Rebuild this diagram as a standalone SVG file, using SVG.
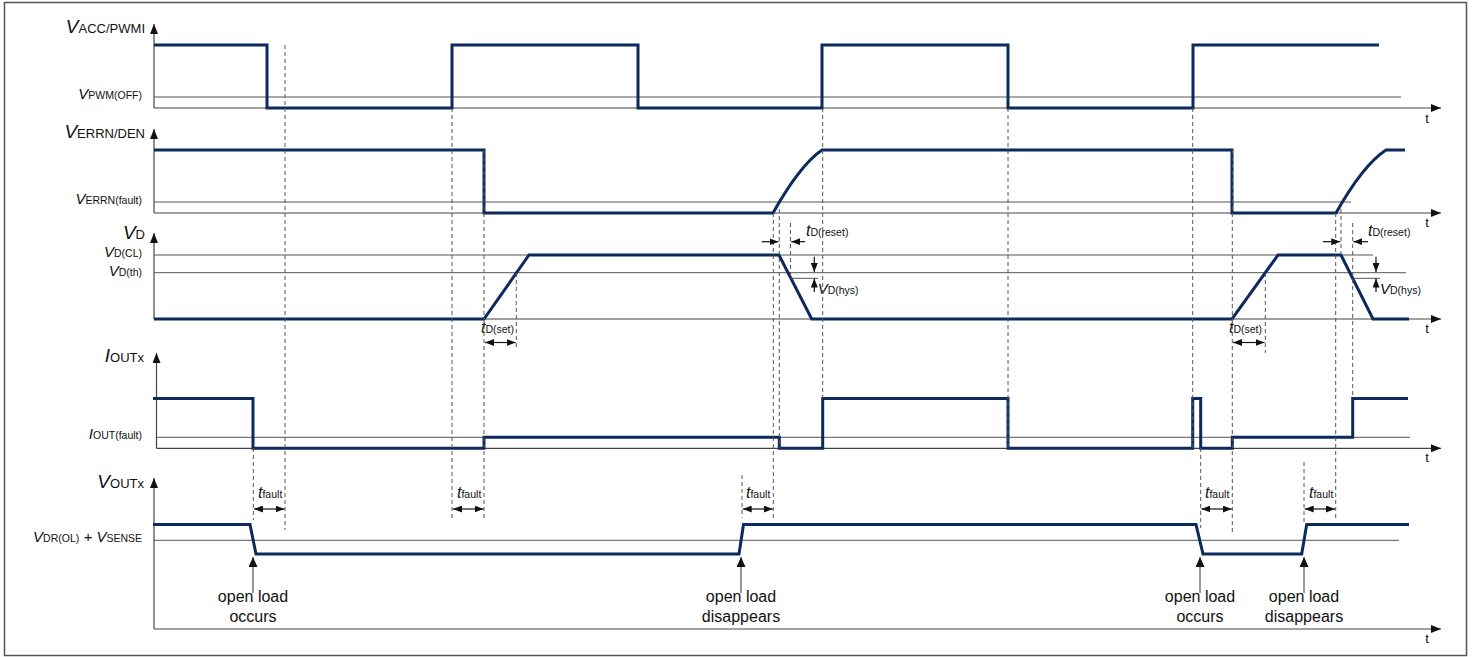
<svg xmlns="http://www.w3.org/2000/svg" width="1474" height="657" viewBox="0 0 1474 657">
<defs>
<marker id="ah" markerUnits="userSpaceOnUse" markerWidth="10" markerHeight="8" refX="10" refY="4" orient="auto"><path d="M0,0 L10,4 L0,8 z" fill="#111"/></marker>
<marker id="sh" markerUnits="userSpaceOnUse" markerWidth="9" markerHeight="7" refX="9" refY="3.5" orient="auto-start-reverse"><path d="M0,0 L9,3.5 L0,7 z" fill="#111"/></marker>
<marker id="bh" markerUnits="userSpaceOnUse" markerWidth="10" markerHeight="9" refX="10" refY="4.5" orient="auto"><path d="M0,0 L10,4.5 L0,9 z" fill="#111"/></marker>
<style>
.sig{fill:none;stroke:#0c2a5c;stroke-width:3;stroke-linejoin:miter}
.ax{stroke:#444;stroke-width:1.2;fill:none}
.axa{stroke:#444;stroke-width:1.2;fill:none;marker-end:url(#ah)}
.ref{stroke:#555;stroke-width:1;fill:none}
.dash{stroke:#555;stroke-width:1;stroke-dasharray:4 3;fill:none}
.dbl{stroke:#111;stroke-width:1.2;marker-start:url(#sh);marker-end:url(#sh)}
.one{stroke:#111;stroke-width:1.2;marker-end:url(#sh)}
.ptr{stroke:#333;stroke-width:1;marker-end:url(#bh)}
text{font-family:"Liberation Sans",Arial,sans-serif;fill:#111}
.bv{font-size:19px;font-style:italic}
.bs{font-size:13px}
.sv{font-size:15px;font-style:italic}
.ss{font-size:10.5px}
.tt{font-size:16px;font-style:italic}
.ann{font-size:16px}
.tl{font-size:13px}
</style>
</defs>
<rect x="4.5" y="2.5" width="1462" height="653" fill="#fff" stroke="#555" stroke-width="1.5"/>

<g id="panel-pwm">
<line class="axa" x1="154" y1="108" x2="154" y2="24"/>
<line class="axa" x1="154" y1="108" x2="1441" y2="108"/>
<line class="ref" x1="154" y1="97" x2="1401" y2="97"/>
<text x="145" y="33" text-anchor="end"><tspan class="bv">V</tspan><tspan class="bs">ACC/PWMI</tspan></text>
<text x="142" y="99" text-anchor="end"><tspan class="sv">V</tspan><tspan class="ss">PWM(OFF)</tspan></text>
<text class="tl" x="1427" y="123" text-anchor="middle">t</text>
<path class="sig" d="M154,45 H267 V108 H452 V45 H638 V108 H822 V45 H1008 V108 H1193 V45 H1379"/>
</g>

<g id="panel-errn">
<line class="axa" x1="154" y1="213" x2="154" y2="129"/>
<line class="axa" x1="154" y1="213" x2="1441" y2="213"/>
<line class="ref" x1="154" y1="202" x2="1351" y2="202"/>
<text x="145" y="138" text-anchor="end"><tspan class="bv">V</tspan><tspan class="bs">ERRN/DEN</tspan></text>
<text x="142" y="204" text-anchor="end"><tspan class="sv">V</tspan><tspan class="ss">ERRN(fault)</tspan></text>
<text class="tl" x="1427" y="227" text-anchor="middle">t</text>
<path class="sig" d="M154,150 H484 V213 H773 Q800,165 822,150 H1232 V213 H1336 Q1363,165 1386,150 H1405"/>
</g>

<g id="panel-vd">
<line class="axa" x1="154" y1="319" x2="154" y2="233"/>
<line class="axa" x1="154" y1="319" x2="1441" y2="319"/>
<line class="ref" x1="154" y1="255" x2="1373" y2="255"/>
<line class="ref" x1="154" y1="272.7" x2="1406" y2="272.7"/>
<text x="145" y="239" text-anchor="end"><tspan class="bv">V</tspan><tspan class="bs">D</tspan></text>
<text x="142" y="257" text-anchor="end"><tspan class="sv">V</tspan><tspan class="ss">D(CL)</tspan></text>
<text x="142" y="276" text-anchor="end"><tspan class="sv">V</tspan><tspan class="ss">D(th)</tspan></text>
<text class="tl" x="1427" y="333" text-anchor="middle">t</text>
<path class="sig" d="M154,319 H484 L529,255 H779 L811.7,319 H1232 L1278,255 H1341 L1373,319 H1409"/>
<line class="ref" x1="789" y1="278.3" x2="818" y2="278.3"/>
<line class="ref" x1="1353" y1="278.3" x2="1380" y2="278.3"/>
<line class="one" x1="814.3" y1="256.7" x2="814.3" y2="272"/>
<line class="one" x1="814.3" y1="292" x2="814.3" y2="278.6"/>
<line class="one" x1="1376" y1="256.7" x2="1376" y2="272"/>
<line class="one" x1="1376" y1="292" x2="1376" y2="278.6"/>
<text x="817.7" y="293.5"><tspan class="sv">V</tspan><tspan class="ss">D(hys)</tspan></text>
<text x="1380" y="293.5"><tspan class="sv">V</tspan><tspan class="ss">D(hys)</tspan></text>
<text x="481" y="333"><tspan class="tt">t</tspan><tspan class="ss">D(set)</tspan></text>
<text x="1229" y="333"><tspan class="tt">t</tspan><tspan class="ss">D(set)</tspan></text>
<text x="806" y="236"><tspan class="tt">t</tspan><tspan class="ss">D(reset)</tspan></text>
<text x="1368" y="236"><tspan class="tt">t</tspan><tspan class="ss">D(reset)</tspan></text>
</g>

<g id="panel-iout">
<line class="axa" x1="156.5" y1="448.3" x2="156.5" y2="353"/>
<line class="axa" x1="156.5" y1="448.3" x2="1441" y2="448.3"/>
<line class="ref" x1="156.5" y1="437.3" x2="1410" y2="437.3"/>
<text x="144" y="362" text-anchor="end"><tspan class="bv">I</tspan><tspan class="bs">OUTx</tspan></text>
<text x="142" y="439" text-anchor="end"><tspan class="sv">I</tspan><tspan class="ss">OUT(fault)</tspan></text>
<text class="tl" x="1427" y="462" text-anchor="middle">t</text>
<path class="sig" d="M153,398.5 H253 V448.3 H484 V437.3 H779.3 V448.3 H822.7 V398.5 H1008 V448.3 H1192.7 V398.5 H1200.7 V448.3 H1232.3 V437.3 H1352.7 V398.5 H1408"/>
</g>

<g id="panel-vout">
<line class="axa" x1="154" y1="629" x2="154" y2="478"/>
<line class="axa" x1="154" y1="629" x2="1441" y2="629"/>
<line class="ref" x1="154" y1="540.3" x2="1399" y2="540.3"/>
<text x="144" y="488" text-anchor="end"><tspan class="bv">V</tspan><tspan class="bs">OUTx</tspan></text>
<text x="142" y="542" text-anchor="end"><tspan class="sv">V</tspan><tspan class="ss">DR(OL)</tspan><tspan class="sv" font-style="normal"> + </tspan><tspan class="sv">V</tspan><tspan class="ss">SENSE</tspan></text>
<text class="tl" x="1427" y="643" text-anchor="middle">t</text>
<path class="sig" d="M153,524.5 H250 L256,554 H739 L743.5,524.5 H1196 L1203,554 H1301.7 L1306.7,524.5 H1409"/>
<text x="258" y="498"><tspan class="tt">t</tspan><tspan class="ss">fault</tspan></text>
<text x="457" y="498"><tspan class="tt">t</tspan><tspan class="ss">fault</tspan></text>
<text x="746" y="498"><tspan class="tt">t</tspan><tspan class="ss">fault</tspan></text>
<text x="1205" y="498"><tspan class="tt">t</tspan><tspan class="ss">fault</tspan></text>
<text x="1309" y="498"><tspan class="tt">t</tspan><tspan class="ss">fault</tspan></text>
</g>

<g id="annot-1">
<line class="ptr" x1="253" y1="593" x2="253" y2="557"/>
<text class="ann" x="253" y="602" text-anchor="middle">open load</text>
<text class="ann" x="253" y="622" text-anchor="middle">occurs</text>
</g>
<g id="annot-2">
<line class="ptr" x1="741" y1="593" x2="741" y2="557"/>
<text class="ann" x="741" y="602" text-anchor="middle">open load</text>
<text class="ann" x="741" y="622" text-anchor="middle">disappears</text>
</g>
<g id="annot-3">
<line class="ptr" x1="1200" y1="593" x2="1200" y2="557"/>
<text class="ann" x="1200" y="602" text-anchor="middle">open load</text>
<text class="ann" x="1200" y="622" text-anchor="middle">occurs</text>
</g>
<g id="annot-4">
<line class="ptr" x1="1304" y1="593" x2="1304" y2="557"/>
<text class="ann" x="1304" y="602" text-anchor="middle">open load</text>
<text class="ann" x="1304" y="622" text-anchor="middle">disappears</text>
</g>

<g id="connectors">
<line class="dash" x1="285" y1="45" x2="285" y2="530"/>
<line class="dash" x1="452" y1="108" x2="452" y2="518"/>
<line class="dash" x1="484" y1="150" x2="484" y2="518"/>
<line class="dash" x1="516.3" y1="273" x2="516.3" y2="350"/>
<line class="dash" x1="773.3" y1="213" x2="773.3" y2="518"/>
<line class="dash" x1="779.3" y1="209" x2="779.3" y2="448"/>
<line class="dash" x1="790.5" y1="223" x2="790.5" y2="278"/>
<line class="dash" x1="822.7" y1="108" x2="822.7" y2="398"/>
<line class="dash" x1="1008" y1="108" x2="1008" y2="448"/>
<line class="dash" x1="1192.7" y1="108" x2="1192.7" y2="448"/>
<line class="dash" x1="1200.7" y1="448" x2="1200.7" y2="528"/>
<line class="dash" x1="1232.3" y1="150" x2="1232.3" y2="535"/>
<line class="dash" x1="1265.3" y1="273" x2="1265.3" y2="353"/>
<line class="dash" x1="1335.7" y1="213" x2="1335.7" y2="520"/>
<line class="dash" x1="1341" y1="209" x2="1341" y2="255"/>
<line class="dash" x1="1352.7" y1="223" x2="1352.7" y2="398"/>
<line class="dash" x1="1304" y1="462" x2="1304" y2="524"/>
<line class="dash" x1="742" y1="475" x2="742" y2="518"/>
<line class="dash" x1="253.3" y1="448" x2="253.3" y2="520"/>
<line class="dbl" x1="485" y1="342.5" x2="515.5" y2="342.5"/>
<line class="dbl" x1="1233" y1="342.5" x2="1264.5" y2="342.5"/>
<line class="one" x1="761.7" y1="241.7" x2="778.5" y2="241.7"/>
<line class="one" x1="805" y1="241.7" x2="791.3" y2="241.7"/>
<line class="one" x1="1323" y1="241.7" x2="1340.3" y2="241.7"/>
<line class="one" x1="1368" y1="241.7" x2="1353.4" y2="241.7"/>
<line class="dbl" x1="254" y1="509" x2="284.5" y2="509"/>
<line class="dbl" x1="453" y1="509" x2="483.5" y2="509"/>
<line class="dbl" x1="742.7" y1="509" x2="772.7" y2="509"/>
<line class="dbl" x1="1201.4" y1="509" x2="1231.7" y2="509"/>
<line class="dbl" x1="1304.7" y1="509" x2="1335" y2="509"/>
</g>
</svg>
